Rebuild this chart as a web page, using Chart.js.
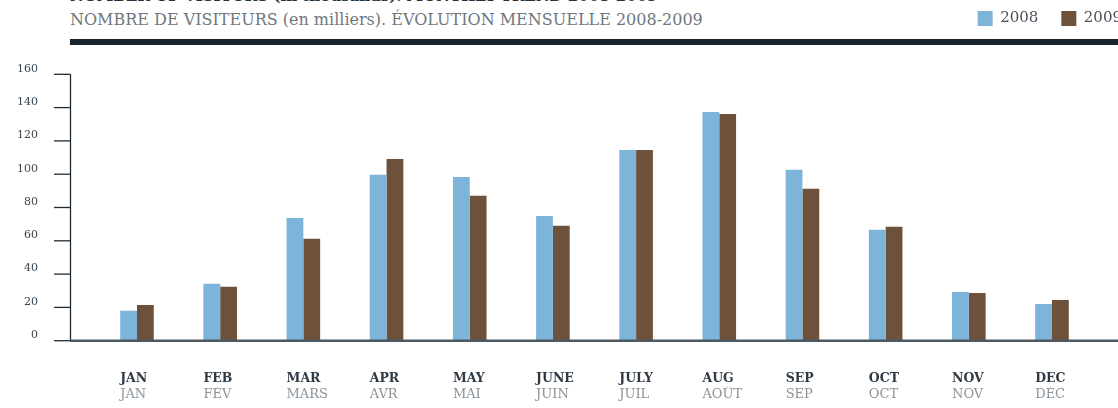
<!DOCTYPE html>
<html>
<head>
<meta charset="utf-8">
<script src="https://cdn.jsdelivr.net/npm/chart.js@4.4.1/dist/chart.umd.min.js"></script>
<style>
html,body{margin:0;padding:0;background:#fff;}
#wrap{position:relative;width:1118px;height:408px;overflow:hidden;background:#fff;}
#c{position:absolute;left:0;top:0;}
.t{position:absolute;left:70px;white-space:nowrap;font-family:"DejaVu Serif";}
#t0{top:-11px;font-size:15px;line-height:15px;font-weight:bold;color:#25313b;}
#t1{top:12px;font-size:16px;line-height:16px;color:#6f777e;}
#rule{position:absolute;left:70px;top:39px;width:1048px;height:6px;background:#18252f;}
</style>
</head>
<body>
<div id="wrap">
  <div class="t" id="t0">NUMBER OF VISITORS (in thousands). MONTHLY TREND 2008-2009</div>
  <div class="t" id="t1">NOMBRE DE VISITEURS (en milliers). ÉVOLUTION MENSUELLE 2008-2009</div>
  <div id="rule"></div>
  <canvas id="c" width="1145" height="408"></canvas>
</div>
<script>
const monthsEN = ['JAN','FEB','MAR','APR','MAY','JUNE','JULY','AUG','SEP','OCT','NOV','DEC'];
const monthsFR = ['JAN','FÉV','MARS','AVR','MAI','JUIN','JUIL','AOÛT','SEP','OCT','NOV','DÉC'];
const series2008 = [18, 34.2, 73.7, 99.6, 98.3, 74.9, 114.6, 137.4, 102.6, 66.6, 29.3, 22.1];
const series2009 = [21.5, 32.4, 61.2, 109.2, 87, 69, 114.6, 136.2, 91.2, 68.4, 28.7, 24.5];
const seriesNames = ['2008', '2009'];
const yMin = 0, yMax = 160, yStep = 20;

const FONT = "'DejaVu Serif'";
Chart.defaults.font.family = FONT;

const axisLines = {
  id: 'axisLines',
  afterDatasetsDraw(chart) {
    const ys = chart.scales.y;
    const ctx = chart.ctx;
    const y0 = ys.getPixelForValue(yMin);
    const yT = ys.getPixelForValue(yMax);
    ctx.save();
    ctx.strokeStyle = '#1f2b35';
    ctx.lineWidth = 1.3;
    ys.ticks.forEach(t => {
      const py = ys.getPixelForValue(t.value);
      ctx.beginPath();
      ctx.moveTo(54, py);
      ctx.lineTo(70.5, py);
      ctx.stroke();
    });
    ctx.beginPath();
    ctx.moveTo(70.5, yT);
    ctx.lineTo(70.5, y0);
    ctx.stroke();
    ctx.strokeStyle = '#4d5a64';
    ctx.lineWidth = 2.4;
    ctx.beginPath();
    ctx.moveTo(70, y0);
    ctx.lineTo(chart.width, y0);
    ctx.stroke();
    ctx.restore();
  }
};

new Chart(document.getElementById('c'), {
  type: 'bar',
  data: {
    labels: monthsEN,
    datasets: [
      { label: seriesNames[0], data: series2008, backgroundColor: '#7cb5d9', borderWidth: 0,
        categoryPercentage: 0.404, barPercentage: 1.0 },
      { label: seriesNames[1], data: series2009, backgroundColor: '#6e513a', borderWidth: 0,
        categoryPercentage: 0.404, barPercentage: 1.0 }
    ]
  },
  options: {
    responsive: false,
    animation: false,
    devicePixelRatio: 1,
    events: [],
    layout: { padding: { top: -12, left: 0, right: 0, bottom: 0 } },
    plugins: {
      title: { display: false },
      tooltip: { enabled: false },
      legend: {
        display: true,
        position: 'top',
        align: 'end',
        labels: {
          boxWidth: 15, boxHeight: 15, padding: 23,
          color: '#4a5058',
          font: { family: FONT, size: 15 }
        }
      }
    },
    scales: {
      x: {
        type: 'category',
        position: 'bottom',
        weight: 0,
        offset: true,
        grid: { display: false, drawTicks: false },
        border: { display: false },
        ticks: {
          autoSkip: false, maxRotation: 0, minRotation: 0,
          align: 'start', labelOffset: -16.8, padding: 30.5,
          color: '#2f3a44',
          font: { family: FONT, size: 12.5, weight: 'bold' }
        },
        afterFit: s => { s.height = 46; }
      },
      x2: {
        type: 'category',
        labels: monthsFR,
        position: 'bottom',
        weight: 1,
        offset: true,
        grid: { display: false, drawTicks: false },
        border: { display: false },
        ticks: {
          autoSkip: false, maxRotation: 0, minRotation: 0,
          align: 'start', labelOffset: -16.8, padding: 0.5,
          color: '#8a939a',
          font: { family: FONT, size: 13 }
        },
        afterFit: s => { s.height = 21.3; }
      },
      xt: {
        type: 'linear',
        position: 'top',
        weight: 0,
        grid: { display: false, drawTicks: false },
        border: { display: false },
        ticks: { display: false },
        afterFit: s => { s.height = 38.3; }
      },
      y: {
        type: 'linear',
        position: 'left',
        min: yMin, max: yMax,
        grid: { display: false, drawTicks: false },
        border: { display: false },
        ticks: {
          stepSize: yStep,
          padding: 57.4,
          labelOffset: -5.5,
          color: '#3a4650',
          font: { family: FONT, size: 11 }
        },
        afterFit: s => { s.width = 95.4; }
      },
      y2: {
        type: 'linear',
        position: 'right',
        grid: { display: false, drawTicks: false },
        border: { display: false },
        ticks: { display: false },
        afterFit: s => { s.width = 51.4; }
      }
    }
  },
  plugins: [axisLines]
});
</script>
</body>
</html>
